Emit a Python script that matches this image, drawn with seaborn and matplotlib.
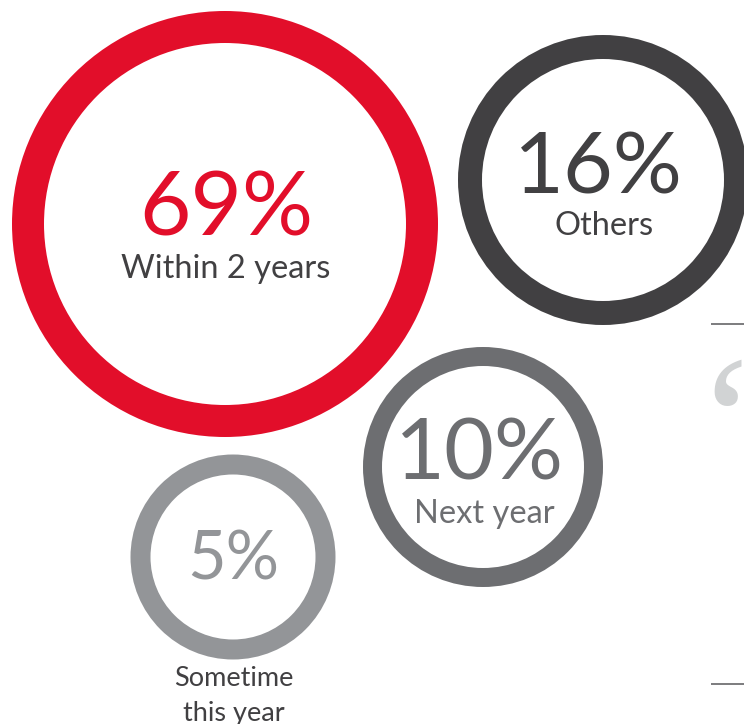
import matplotlib
matplotlib.use("Agg")
import matplotlib.pyplot as plt
import seaborn as sns
import pandas as pd

# ---- data ----
labels = ["Within 2 years", "Others", "Next year", "Sometime this year"]
label_lines = [["Within 2 years"], ["Others"], ["Next year"], ["Sometime", "this year"]]
values = [69, 16, 10, 5]

# ---- layout (pixel coordinates, y down) ----
centers_x = [225, 603, 483, 233]
centers_y = [224, 180, 467, 557]
outer_r = [213, 145, 120, 102.5]
ring_w = [32, 24, 19, 20]
ring_colors = ["#E20E2A", "#414042", "#6D6E71", "#939598"]
value_colors = ["#E20E2A", "#414042", "#6D6E71", "#939598"]
label_colors = ["#414042", "#414042", "#6D6E71", "#414042"]
value_sizes = [64, 62, 62, 48]
value_dy = [11, 14, 13, 23]
value_dx = [1, -5, -4, 0]
label_size = [23.5, 23.5, 23.5, 19.5]
label_dy = [54, 55, 56, 129]
label_line_gap = 35

DPI = 100
W, H = 744, 724

sns.set_theme(style="white")
plt.rcParams["font.family"] = ["Lato", "DejaVu Sans"]

fig = plt.figure(figsize=(W / DPI, H / DPI), dpi=DPI)
ax = fig.add_axes([0, 0, 1, 1])

px2pt = 72 / DPI
df = pd.DataFrame({
    "label": labels,
    "value": values,
    "x": centers_x,
    "y": centers_y,
})
outer_sizes = {l: (2 * r * px2pt) ** 2 for l, r in zip(labels, outer_r)}
inner_sizes = {l: (2 * (r - w) * px2pt) ** 2 for l, r, w in zip(labels, outer_r, ring_w)}
palette = dict(zip(labels, ring_colors))

sns.scatterplot(data=df, x="x", y="y", hue="label", palette=palette,
                size="label", sizes=outer_sizes, linewidth=0, legend=False,
                ax=ax, zorder=2, clip_on=False)
sns.scatterplot(data=df, x="x", y="y", color="white",
                size="label", sizes=inner_sizes, linewidth=0, legend=False,
                ax=ax, zorder=3, clip_on=False)
ax.set_xlim(0, W)
ax.set_ylim(H, 0)
ax.axis("off")

for i, row in df.iterrows():
    cx, cy = row["x"], row["y"]
    ax.text(cx + value_dx[i], cy + value_dy[i], f"{row['value']}%",
            ha="center", va="baseline", fontsize=value_sizes[i],
            color=value_colors[i], zorder=5)
    for j, line in enumerate(label_lines[i]):
        ax.text(cx + 1, cy + label_dy[i] + j * label_line_gap, line,
                ha="center", va="baseline", fontsize=label_size[i],
                color=label_colors[i], zorder=5)

# decorative rules and quote mark at the right edge
ax.hlines([324, 684], 711, 760, color="#58595B", linewidth=1.1, zorder=1, clip_on=False)
ax.text(705, 480, "\u201c", fontsize=130, family=["Liberation Serif"],
        color="#D1D3D4", ha="left", va="baseline", zorder=1)

fig.savefig("out.png", dpi=DPI, facecolor="white")
